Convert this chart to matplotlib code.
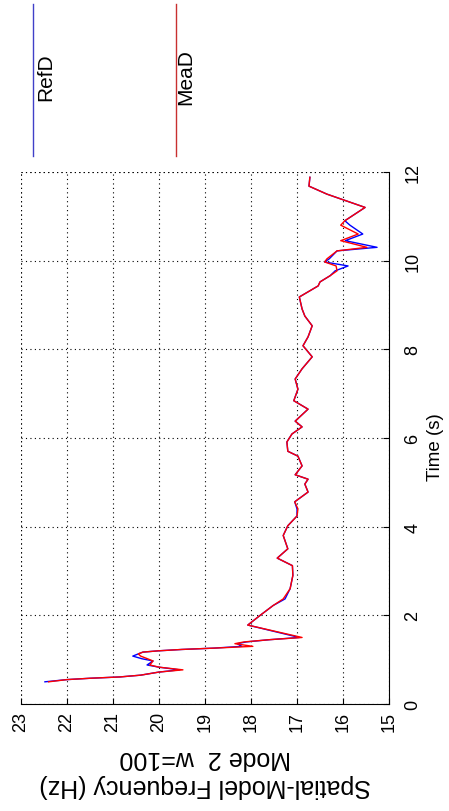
import matplotlib
matplotlib.use('Agg')
import matplotlib.pyplot as plt
from matplotlib.lines import Line2D

# time (s) and the two frequency traces (Hz)
time = [0.50, 0.55, 0.58, 0.61, 0.65, 0.72, 0.77, 0.83, 0.88, 0.97, 1.02, 1.08, 1.13, 1.17,
        1.20, 1.23, 1.26, 1.30, 1.36, 1.40, 1.45, 1.50, 1.78, 2.00, 2.22, 2.37, 2.60, 2.90,
        3.12, 3.29, 3.50, 3.80, 4.02, 4.24, 4.40, 4.56, 4.78, 4.96, 5.07, 5.17, 5.37, 5.59,
        5.70, 5.91, 6.09, 6.25, 6.38, 6.65, 6.84, 7.10, 7.33, 7.56, 7.83, 8.08, 8.28, 8.53,
        8.75, 8.91, 9.18, 9.32, 9.43, 9.52, 9.66, 9.77, 9.88, 9.97, 10.04, 10.22, 10.30, 10.45,
        10.60, 10.80, 10.90, 11.20, 11.50, 11.68, 11.88]
ref_d = [22.48, 22.00, 21.50, 20.85, 20.40, 20.00, 19.55, 20.00, 20.26, 20.13, 20.37, 20.57, 20.45, 20.35,
         20.00, 19.50, 18.80, 18.20, 18.30, 18.10, 17.60, 16.95, 18.07, 17.80, 17.52, 17.26, 17.15, 17.09,
         17.10, 17.43, 17.20, 17.30, 17.20, 17.00, 17.00, 17.05, 16.76, 16.83, 16.76, 17.04, 16.89, 16.98,
         17.20, 17.22, 17.11, 16.89, 17.04, 16.76, 17.07, 16.98, 17.04, 16.89, 16.67, 16.87, 16.76, 16.67,
         16.83, 16.89, 16.95, 16.72, 16.54, 16.50, 16.28, 16.17, 15.89, 16.40, 16.30, 16.13, 15.26, 15.95,
         15.57, 15.85, 15.96, 15.52, 16.35, 16.74, 16.72]
mea_d = [22.40, 22.00, 21.50, 20.85, 20.40, 20.00, 19.48, 20.00, 20.20, 20.13, 20.25, 20.40, 20.45, 20.35,
         20.00, 19.50, 18.80, 17.96, 18.35, 18.15, 17.60, 16.89, 18.07, 17.80, 17.52, 17.30, 17.15, 17.09,
         17.10, 17.43, 17.20, 17.30, 17.20, 17.00, 16.98, 17.05, 16.76, 16.83, 16.76, 17.04, 16.89, 16.98,
         17.20, 17.22, 17.11, 16.89, 17.04, 16.76, 17.07, 16.98, 17.04, 16.89, 16.67, 16.87, 16.76, 16.67,
         16.83, 16.89, 16.95, 16.72, 16.54, 16.50, 16.28, 16.13, 16.15, 16.40, 16.35, 16.13, 15.48, 16.05,
         15.67, 16.05, 15.96, 15.52, 16.35, 16.74, 16.72]

freq_ticks = [23, 22, 21, 20, 19, 18, 17, 16, 15]
time_ticks = [0, 2, 4, 6, 8, 10, 12]

plt.rcParams['font.family'] = ['Liberation Sans', 'DejaVu Sans']

# the whole figure is shown turned a quarter turn: frequency runs across, time runs up
fig = plt.figure(figsize=(4.49, 8.12), dpi=100)
ax = fig.add_axes([0.0468, 0.1318, 0.8196, 0.6552])

ax.plot(ref_d, time, color='#0000ff', lw=1.0, label='RefD')
ax.plot(mea_d, time, color='#ff0000', lw=1.0, label='MeaD')

ax.set_xlim(23, 15)
ax.set_ylim(0, 12)
ax.set_xticks(freq_ticks)
ax.set_yticks(time_ticks)
ax.yaxis.tick_right()
ax.yaxis.set_label_position('right')
ax.spines['left'].set_visible(False)
ax.spines['top'].set_visible(False)
ax.tick_params(axis='both', direction='in', length=4, width=0.8, labelsize=13)
ax.tick_params(axis='x', pad=5, labelrotation=90)
ax.tick_params(axis='y', pad=11, labelrotation=90)
for lab in ax.get_yticklabels():
    lab.set_va('center')

ax.grid(True, color='black', linestyle=(0, (1, 3)), linewidth=0.8)
# grid along the open edges (23 Hz and 12 s)
ax.axvline(23, color='black', linestyle=(0, (1, 3)), linewidth=0.8)
ax.axhline(12, color='black', linestyle=(0, (1, 3)), linewidth=0.8)

ax.set_xlabel('Spatial-Model Frequency (Hz)\nMode 2  w=100', fontsize=18, rotation=180,
              ha='center', va='top', multialignment='center')
ax.xaxis.set_label_coords(0.5, -0.078)
ax.set_ylabel('Time (s)', fontsize=13.5, rotation=90)
ax.yaxis.set_label_coords(1.103, 0.484)

# legend, turned with the rest
fig.add_artist(Line2D([33 / 449, 33 / 449], [1 - 5 / 812, 1 - 157 / 812], color='#4040c8', lw=1.0))
fig.add_artist(Line2D([176 / 449, 176 / 449], [1 - 5 / 812, 1 - 157 / 812], color='#c83030', lw=1.0))
fig.text(46 / 449, 1 - 77 / 812, 'RefD', rotation=90, fontsize=15, ha='center', va='center')
fig.text(186 / 449, 1 - 77 / 812, 'MeaD', rotation=90, fontsize=15, ha='center', va='center')

fig.savefig('out.png', dpi=100)
